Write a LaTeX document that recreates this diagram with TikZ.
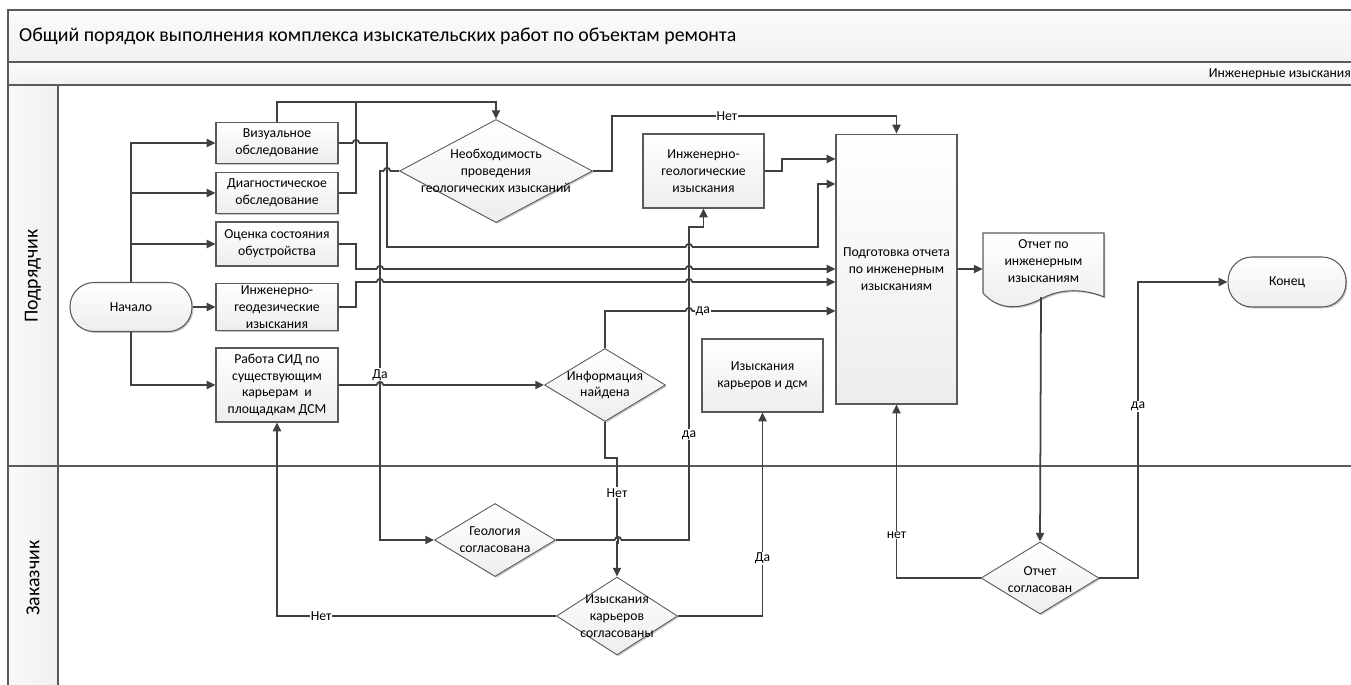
\documentclass[tikz,border=0pt]{standalone}
\usepackage{fontspec}
\setmainfont{Carlito}
\usetikzlibrary{arrows.meta, positioning, shapes.geometric, shadows}
\definecolor{lineclr}{HTML}{404040}
\definecolor{edgeclr}{HTML}{5A5A5A}
\newcommand{\boxfont}{\fontsize{7.8pt}{9.6pt}\selectfont}
\newcommand{\headfont}{\fontsize{11.3pt}{13pt}\selectfont}
% line hop: horizontal connector jumps over a vertical one
\newcommand{\hop}[2]{%
  \fill[white] (#1-3.4,#2-1.4) rectangle (#1+3.4,#2+1.4);
  \draw[conn] (#1-3.2,#2) arc[start angle=180, end angle=0, radius=0.064cm];
  \draw[conn] (#1,#2-4) -- (#1,#2+4);}

\begin{document}
\begin{tikzpicture}[
    x=0.02cm, y=-0.02cm,
    font=\boxfont,
    softshadow/.style={drop shadow={shadow xshift=0.8pt, shadow yshift=-0.8pt,
                       fill=black, opacity=0.22}},
    frame/.style={draw=edgeclr, line width=0.9pt},
    box/.style={rectangle, draw=edgeclr, line width=0.6pt,
                top color=white, bottom color=gray!14,
                minimum width=2.44cm, inner xsep=1pt, inner ysep=0pt,
                align=center, softshadow},
    term/.style={box, rounded corners=0.48cm, minimum height=0.98cm},
    dec/.style={diamond, draw=edgeclr, line width=0.5pt,
                top color=white, bottom color=gray!14,
                inner sep=0pt, softshadow},
    docshape/.style={draw=edgeclr, line width=0.6pt,
                top color=white, bottom color=gray!14, softshadow},
    txt/.style={align=center, inner sep=0pt},
    conn/.style={draw=lineclr, line width=1pt},
    arr/.style={conn, -{Triangle[length=5pt, width=4.6pt]}},
    lbl/.style={fill=white, inner sep=0.6pt},
  ]
    \useasboundingbox (0,0) rectangle (1351,684);

    % swimlane frame
    \draw[frame, top color=gray!3, bottom color=gray!11] (8,10) rectangle (1370,62);
    \draw[frame, top color=gray!3, bottom color=gray!11] (8,62) rectangle (1370,85);
    \draw[frame, left color=gray!4, right color=gray!12] (8,85) rectangle (58,700);
    \draw[frame] (8,466) -- (1370,466);
    \node[anchor=west, font=\headfont] (title) at (13,36)
      {Общий порядок выполнения комплекса изыскательских работ по объектам ремонта};
    \node[anchor=east] (sub) at (1357,74) {Инженерные изыскания};
    \node[rotate=90, font=\headfont] (lane1) at (33,276) {Подрядчик};
    \node[rotate=90, font=\headfont] (lane2) at (33,578) {Заказчик};

    \node[term] (start) at (131,307) {Начало};
    \node[box, minimum height=0.82cm] (vis) at (277,143) {Визуальное\\обследование};
    \node[box, minimum height=0.82cm] (diag) at (277,193) {Диагностическое\\обследование};
    \node[box, minimum height=0.88cm] (ocen) at (277,244) {Оценка состояния\\обустройства};
    \node[box, minimum height=0.94cm] (geod) at (277,307) {Инженерно-\\геодезические\\изыскания};
    \node[box, minimum height=1.48cm] (sid) at (277,385)
      {Работа СИД по\\существующим\\карьерам~ и\\площадкам ДСМ};

    \node[dec, minimum width=3.86cm, minimum height=2.06cm] (neo) at (496,171) {};
    \node[txt] (neo-t) at (neo) {Необходимость\\проведения\\геологических изысканий};
    \node[box, minimum width=2.42cm, minimum height=1.48cm] (ingeo) at (703.5,171)
      {Инженерно-\\геологические\\изыскания};
    \node[box, minimum width=2.42cm, minimum height=5.4cm] (report) at (896.5,269)
      {Подготовка отчета\\по инженерным\\изысканиям};

    \node[dec, minimum width=2.42cm, minimum height=1.46cm] (info) at (605,385) {};
    \node[txt] (info-t) at (info) {Информация\\найдена};
    \node[box, minimum width=2.42cm, minimum height=1.46cm] (karj) at (762.5,375.5)
      {Изыскания\\карьеров и дсм};
    \node[dec, minimum width=2.42cm, minimum height=1.46cm] (geol) at (495,540) {};
    \node[txt] (geol-t) at (geol) {Геология\\согласована};
    \node[dec, minimum width=2.42cm, minimum height=1.56cm] (kar) at (617,616) {};
    \node[txt] (kar-t) at (kar) {Изыскания\\карьеров\\согласованы};

    % report document
    \draw[docshape] (983,233) -- (1104,233) -- (1104,297)
      .. controls (1085,289) and (1062,288) .. (1043,298)
      .. controls (1022,309) and (1000,312) .. (983,293) -- cycle;
    \node[minimum width=2.42cm, minimum height=1.48cm, inner sep=0pt] (doc) at (1043.5,270) {};
    \node[txt] (doc-t) at (1043.5,261) {Отчет по\\инженерным\\изысканиям};
    \coordinate (docbot) at (1041,297);
    \node[dec, minimum width=2.36cm, minimum height=1.44cm] (otsogl) at (1040,578) {};
    \node[txt] (otsogl-t) at (1040,580) {Отчет\\согласован};
    \node[term, minimum width=2.36cm, minimum height=1.0cm] (fin) at (1287,282) {Конец};

    % from the start
    \draw[arr] (start.north) |- (vis.west);
    \draw[arr] (start.north) |- (diag.west);
    \draw[arr] (start.north) |- (ocen.west);
    \draw[arr] (start.south) |- (sid.west);
    \draw[arr] (start) -- (geod);

    % survey results
    \draw[arr] (vis.north) -- (277,102) -| (neo.north);
    \draw[conn] (diag.east) -| (356,102);
    \draw[arr] (ocen.east) -| (356,269) -- (report.west |- 0,269);
    \draw[arr] (vis.east) -| (387,247) -| (818,184) -- (report.west |- 0,184);
    \draw[arr] (geod.east) -| (356,282) -- (report.west |- 0,282);

    % geology branch
    \draw[arr] (neo.west) -| node[lbl, pos=0.776] {Да} (380,540) -- (geol.west);
    \draw[arr] (neo.east) -| (612,116) -| node[lbl, pos=0.202] {Нет} (report.north);
    \draw[arr] (geol.east) -| node[lbl, pos=0.668] {да} (689,227) -| (ingeo.south);
    \draw[arr] (ingeo.east) -| (782,159) -- (report.west |- 0,159);

    % quarries branch
    \draw[arr] (sid) -- (info);
    \draw[arr] (info.north) |- node[lbl, pos=0.712] {да} (report.west |- 0,311);
    \draw[arr] (info.south) -- (605,458) -| node[lbl, pos=0.647] {Нет} (kar.north);
    \draw[arr] (kar.east) -| node[lbl, pos=0.642] {Да} (karj.south);
    \draw[arr] (kar.west) -| node[lbl, pos=0.421] {Нет} (sid.south);

    % report approval
    \draw[arr] (report.east) -- (doc.west |- report.east);
    \draw[arr] (docbot) -- (otsogl.north);
    \draw[arr] (otsogl.east) -| node[lbl, pos=0.79] {да} (1138,282) -- (fin.west);
    \draw[arr] (otsogl.west) -| node[lbl, pos=0.624] {нет} (report.south);

    \hop{356}{143} \hop{387}{171} \hop{380}{269} \hop{380}{282} \hop{380}{385}
    \hop{689}{247} \hop{689}{269} \hop{689}{282} \hop{689}{311} \hop{618}{540}
  \end{tikzpicture}
\end{document}
